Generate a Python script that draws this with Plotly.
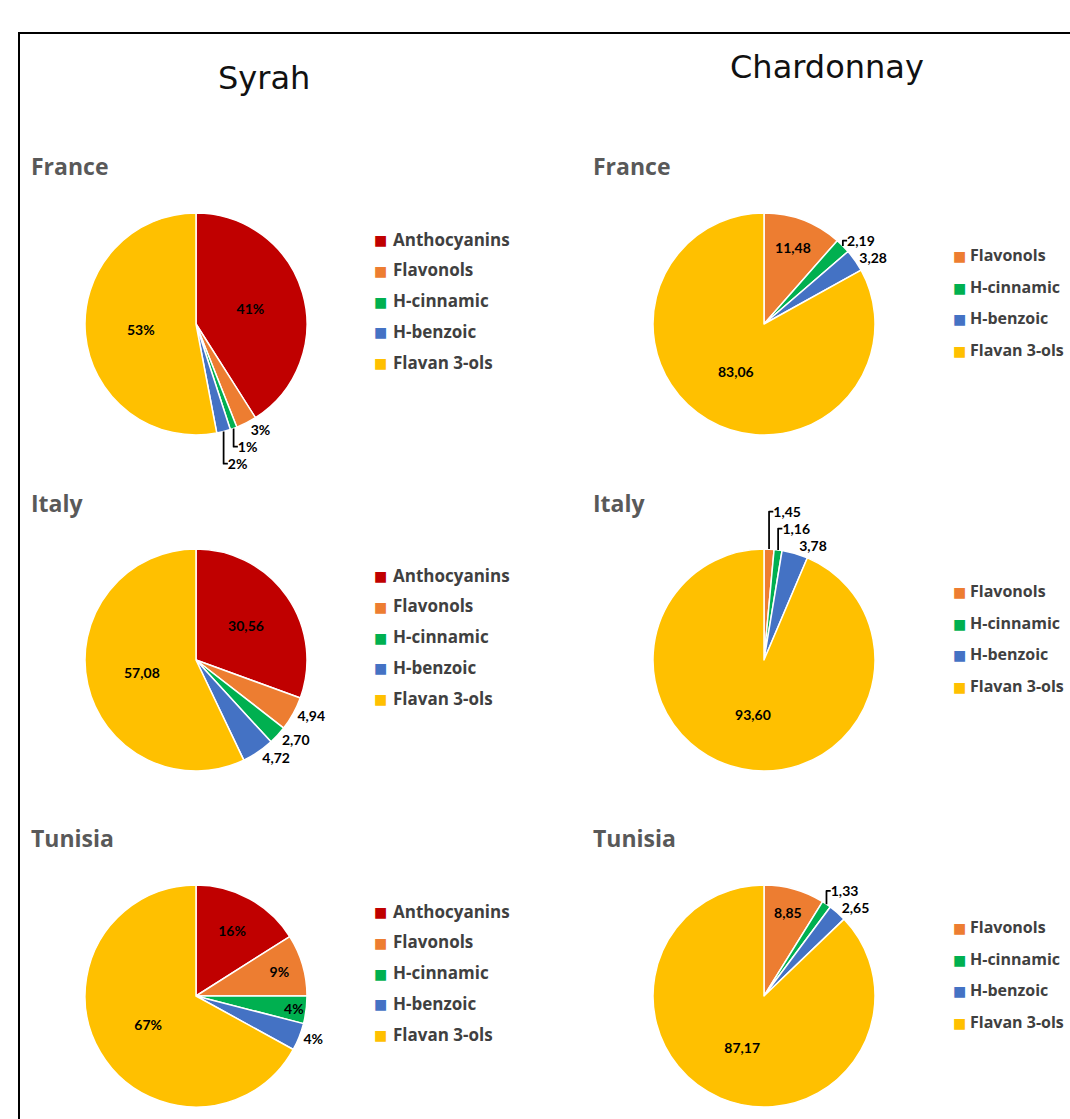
import plotly.graph_objects as go

W, H = 1070, 1119

# ---------------- data ----------------
syrah_labels = ["Anthocyanins", "Flavonols", "H-cinnamic", "H-benzoic", "Flavan 3-ols"]
syrah_colors = ["#C00000", "#ED7D31", "#00B050", "#4472C4", "#FFC000"]
syrah_france = [41, 3, 1, 2, 53]
syrah_italy = [30.56, 4.94, 2.70, 4.72, 57.08]
syrah_tunisia = [16, 9, 4, 4, 67]

chard_labels = ["Flavonols", "H-cinnamic", "H-benzoic", "Flavan 3-ols"]
chard_colors = ["#ED7D31", "#00B050", "#4472C4", "#FFC000"]
chard_france = [11.48, 2.19, 3.28, 83.06]
chard_italy = [1.45, 1.16, 3.78, 93.60]
chard_tunisia = [8.85, 1.33, 2.65, 87.17]

countries = ["France", "Italy", "Tunisia"]
varieties = ["Syrah", "Chardonnay"]

# ---------------- layout constants ----------------
R = 111
col_cx = [196, 764]
row_cy = [324, 660, 996]
LABEL_FONT = dict(family="Lato, 'Open Sans', sans-serif", size=14, color="#000000", weight="bold")

fig = go.Figure()


def dom(cx, cy):
    return dict(x=[(cx - R) / W, (cx + R) / W], y=[1 - (cy + R) / H, 1 - (cy - R) / H])


pies = [
    (0, 0, syrah_labels, syrah_colors, syrah_france, "%{percent:.0%}",
     ["inside", "outside", "outside", "outside", "inside"]),
    (0, 1, syrah_labels, syrah_colors, syrah_italy, "%{value:.2f}",
     ["inside", "outside", "outside", "outside", "inside"]),
    (0, 2, syrah_labels, syrah_colors, syrah_tunisia, "%{percent:.0%}",
     ["inside", "inside", "inside", "outside", "inside"]),
    (1, 0, chard_labels, chard_colors, chard_france, "%{value:.2f}",
     ["inside", "outside", "outside", "inside"]),
    (1, 1, chard_labels, chard_colors, chard_italy, "%{value:.2f}",
     ["outside", "outside", "outside", "inside"]),
    (1, 2, chard_labels, chard_colors, chard_tunisia, "%{value:.2f}",
     ["inside", "outside", "outside", "inside"]),
]

for col, row, labels, colors, vals, tmpl, tpos in pies:
    fig.add_trace(go.Pie(
        labels=labels, values=vals, sort=False, direction="clockwise", rotation=0,
        marker=dict(colors=colors, line=dict(color="#FFFFFF", width=1.5)),
        texttemplate=tmpl, textposition=tpos, insidetextorientation="horizontal",
        textfont=LABEL_FONT, showlegend=False, hoverinfo="label+value",
        domain=dom(col_cx[col], row_cy[row]),
    ))

annotations = []
# variety headers
for x, y, t in [(264, 78, varieties[0]), (827, 67, varieties[1])]:
    annotations.append(dict(x=x / W, y=1 - y / H, xref="paper", yref="paper", text=t,
                            showarrow=False, xanchor="center", yanchor="middle",
                            font=dict(family="DejaVu Sans, sans-serif", size=32, color="#111111")))
# country headers
for ci, x in enumerate([29, 591]):
    for ri, c in enumerate(countries):
        y = [166, 503, 838][ri]
        annotations.append(dict(x=x / W, y=1 - y / H, xref="paper", yref="paper",
                                text="<b>" + c + "</b>", showarrow=False,
                                xanchor="left", yanchor="middle",
                                font=dict(family="'Open Sans', sans-serif", size=23, color="#595959")))

# legends
legend_defs = [
    (0, syrah_labels, syrah_colors, 380, 391, -85, 30.8, 17),
    (1, chard_labels, chard_colors, 959, 968, -69, 31.7, 16),
]
for col, labels, colors, sqx, tx, off, step, fsz in legend_defs:
    for ri in range(3):
        for i, (lab, colr) in enumerate(zip(labels, colors)):
            y = row_cy[ri] + off + i * step
            annotations.append(dict(x=sqx / W, y=1 - (y + 1) / H, xref="paper", yref="paper",
                                    text="■", showarrow=False, xanchor="center", yanchor="middle",
                                    font=dict(family="DejaVu Sans", size=14, color=colr)))
            annotations.append(dict(x=tx / W, y=1 - y / H, xref="paper", yref="paper",
                                    text="<b>" + lab + "</b>", showarrow=False,
                                    xanchor="left", yanchor="middle",
                                    font=dict(family="'Open Sans', sans-serif", size=fsz, color="#404040")))

shapes = [
    dict(type="rect", xref="paper", yref="paper", x0=19 / W, x1=1.02, y0=-0.02, y1=1 - 33 / H,
         line=dict(color="#000000", width=2), fillcolor="rgba(0,0,0,0)"),
]

fig.update_layout(
    width=W, height=H, margin=dict(l=0, r=0, t=0, b=0, autoexpand=False),
    paper_bgcolor="#FFFFFF", plot_bgcolor="#FFFFFF",
    separators=",.",
    uniformtext=dict(minsize=14, mode="show"),
    annotations=annotations, shapes=shapes,
)

fig.write_html("out.html")
